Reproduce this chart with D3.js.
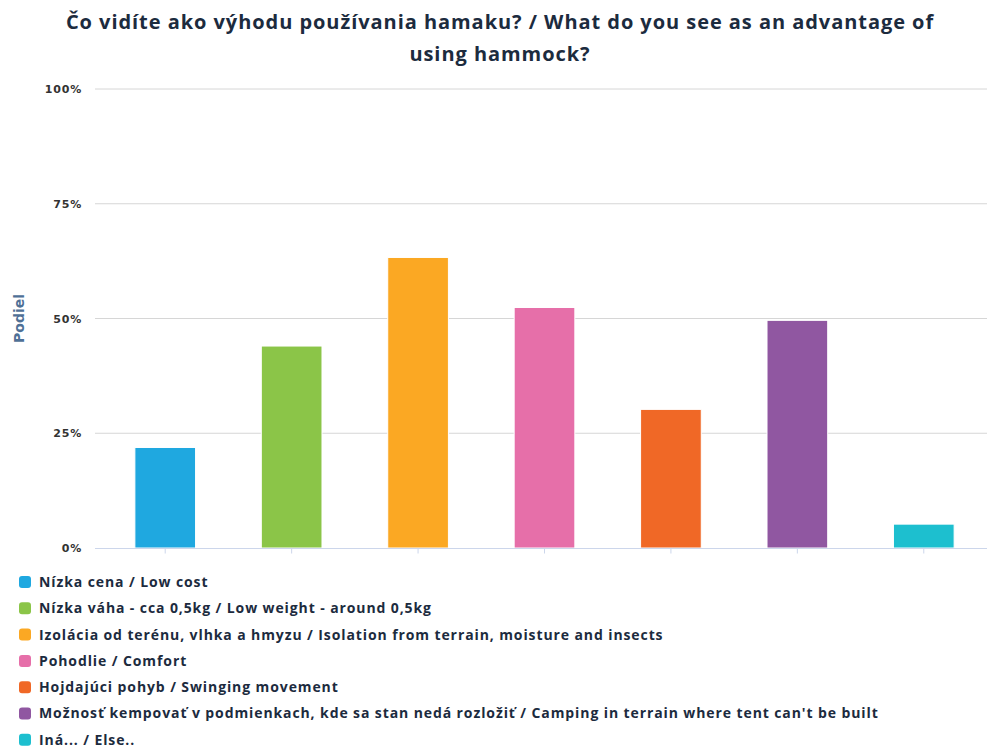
<!DOCTYPE html>
<html>
<head>
<meta charset="utf-8">
<script src="https://cdn.jsdelivr.net/npm/d3@7"></script>
<style>
  body { margin: 0; background: #fff; }
  svg { display: block; }
</style>
</head>
<body>
<div id="chart"></div>
<script>
const categories = [
    "Nízka cena / Low cost",
    "Nízka váha - cca 0,5kg / Low weight - around 0,5kg",
    "Izolácia od terénu, vlhka a hmyzu / Isolation from terrain, moisture and insects",
    "Pohodlie / Comfort",
    "Hojdajúci pohyb / Swinging movement",
    "Možnosť kempovať v podmienkach, kde sa stan nedá rozložiť / Camping in terrain where tent can't be built",
    "Iná... / Else.."
];
const values = [21.9, 44.0, 63.3, 52.4, 30.2, 49.6, 5.2];
const colors = ["#1fa8e0", "#8bc548", "#fba823", "#e66fa9", "#f06826", "#9057a1", "#1dbfcf"];
const yTicks = [0, 25, 50, 75, 100];
const titleLines = [
    "Čo vidíte ako výhodu používania hamaku? / What do you see as an advantage of",
    "using hammock?"
];
const yTitle = "Podiel";

const width = 987, height = 751;
const margin = {top: 89, right: 0, bottom: 203, left: 102};

const svg = d3.select("#chart").append("svg")
    .attr("width", width)
    .attr("height", height);

const x = d3.scaleBand()
    .domain(categories)
    .range([margin.left, width - margin.right])
    .paddingInner(0.52)
    .paddingOuter(0.26);

const y = d3.scaleLinear()
    .domain([0, 100])
    .range([height - margin.bottom, margin.top]);

// title
svg.append("g").selectAll("text")
    .data(titleLines)
    .join("text")
    .attr("x", 500)
    .attr("y", (d, i) => 29 + i * 32)
    .attr("text-anchor", "middle")
    .attr("font-family", "'Open Sans', sans-serif")
    .attr("font-weight", "bold")
    .attr("font-size", 20)
    .attr("letter-spacing", 0.95)
    .attr("fill", "#1c2b3e")
    .text(d => d);

// gridlines
svg.append("g")
    .selectAll("line")
    .data(yTicks.filter(d => d > 0))
    .join("line")
    .attr("x1", 95)
    .attr("x2", width)
    .attr("y1", d => y(d))
    .attr("y2", d => y(d))
    .attr("stroke", "#d6d6d6")
    .attr("stroke-width", 1);

// y axis labels
const yAxis = d3.axisLeft(y)
    .tickValues(yTicks)
    .tickFormat(d => d + "%")
    .tickSize(0)
    .tickPadding(0);

const yg = svg.append("g")
    .attr("transform", "translate(82,0)")
    .call(yAxis);
yg.select(".domain").remove();
yg.selectAll("text")
    .attr("font-family", "'DejaVu Sans', sans-serif")
    .attr("font-weight", "bold")
    .attr("font-size", 11)
    .attr("letter-spacing", 0.8)
    .attr("fill", "#333");

svg.append("text")
    .attr("transform", `translate(24,${y(50)}) rotate(-90)`)
    .attr("text-anchor", "middle")
    .attr("font-family", "'DejaVu Sans', sans-serif")
    .attr("font-weight", "bold")
    .attr("font-size", 14)
    .attr("fill", "#4f7096")
    .text(yTitle);

// bars
svg.append("g")
    .selectAll("rect")
    .data(values)
    .join("rect")
    .attr("x", (d, i) => x(categories[i]))
    .attr("y", d => y(d))
    .attr("width", x.bandwidth())
    .attr("height", d => y(0) - y(d))
    .attr("fill", (d, i) => colors[i])
    .attr("stroke", "#fff")
    .attr("stroke-width", 1);

// x axis
const xAxis = d3.axisBottom(x)
    .tickSize(5)
    .tickFormat("");
const xg = svg.append("g")
    .attr("transform", `translate(0,${y(0) + 0.5})`)
    .call(xAxis);
xg.select(".domain")
    .attr("stroke", "#ccd6eb")
    .attr("d", `M95,0H${width}`);
xg.selectAll(".tick line").attr("stroke", "#ccd6eb");

// legend
const legend = svg.append("g")
    .selectAll("g")
    .data(categories)
    .join("g")
    .attr("transform", (d, i) => `translate(19,${582 + i * 26.3})`);

legend.append("rect")
    .attr("x", 0)
    .attr("y", -6)
    .attr("width", 12)
    .attr("height", 12)
    .attr("rx", 3)
    .attr("fill", (d, i) => colors[i]);

legend.append("text")
    .attr("x", 20)
    .attr("y", 0)
    .attr("dy", "0.35em")
    .attr("font-family", "'Open Sans', sans-serif")
    .attr("font-weight", "bold")
    .attr("font-size", 14)
    .attr("letter-spacing", 0.9)
    .attr("fill", "#1c2b3e")
    .text(d => d);
</script>
</body>
</html>
